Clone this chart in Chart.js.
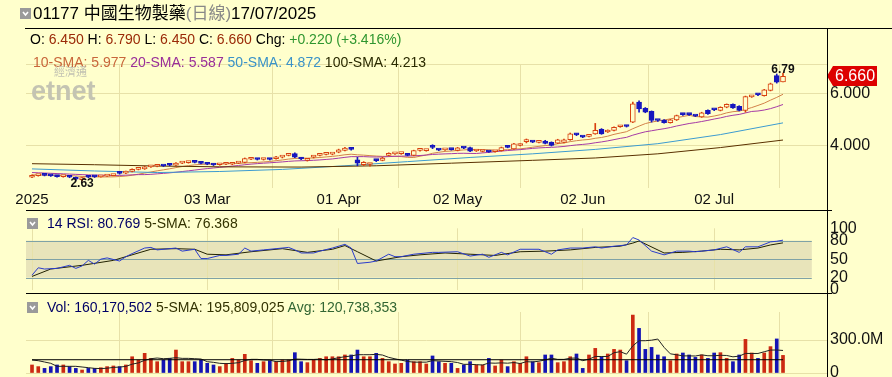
<!DOCTYPE html>
<html>
<head>
<meta charset="utf-8">
<script src="https://cdn.jsdelivr.net/npm/chart.js@4.4.0/dist/chart.umd.min.js"></script>
<style>
html, body { margin: 0; padding: 0; background: #FFFFCC; overflow: hidden; width: 892px; height: 377px; }
body { position: relative; font-family: "Liberation Sans", Arial, "Noto Sans CJK TC", sans-serif; }
canvas { position: absolute; left: 0; }
.txt { position: absolute; white-space: nowrap; line-height: 1; }
.hl { position: absolute; background: #000; height: 1px; }
.vl { position: absolute; background: #000; width: 1px; }
.ico { position: absolute; width: 11px; height: 11px; }
</style>
</head>
<body>
<canvas id="price" width="892" height="215" style="top:0"></canvas>
<canvas id="rsi" width="892" height="100" style="top:200px"></canvas>
<canvas id="vol" width="892" height="100" style="top:290px"></canvas>

<!-- headers -->
<svg class="ico" style="left:20px;top:8px" viewBox="0 0 11 11"><rect width="11" height="11" fill="#9a9a9a"/><polyline points="3,4 5.5,7 8,4" fill="none" stroke="#fff" stroke-width="1.6"/></svg>
<div class="txt" style="left:33px;top:5px;font-size:17px;color:#000">01177 中國生物製藥<span style="color:#888">(日線)</span>17/07/2025</div>
<div class="txt" style="left:30px;top:32px;font-size:14px;color:#000">O: <span style="color:#9a2a08">6.450</span> H: <span style="color:#9a2a08">6.790</span> L: <span style="color:#9a2a08">6.450</span> C: <span style="color:#9a2a08">6.660</span> Chg: <span style="color:#2f962f">+0.220 (+3.416%)</span></div>
<div class="txt" style="left:33px;top:55px;font-size:14px"><span style="color:#c8663a">10-SMA: 5.977</span> <span style="color:#992e99">20-SMA: 5.587</span> <span style="color:#3a92c8">50-SMA: 4.872</span> <span style="color:#2a2a00">100-SMA: 4.213</span></div>
<div class="txt" style="left:54px;top:67px;font-size:11px;color:#c2c2b2">經濟通</div>
<div class="txt" style="left:31px;top:78px;font-size:27px;font-weight:bold;color:#c4c4b2">etnet</div>

<svg class="ico" style="left:27px;top:218px" viewBox="0 0 11 11"><rect width="11" height="11" fill="#9a9a9a"/><polyline points="3,4 5.5,7 8,4" fill="none" stroke="#fff" stroke-width="1.6"/></svg>
<div class="txt" style="left:47px;top:216px;font-size:14px"><span style="color:#000066">14 RSI: 80.769</span> <span style="color:#333300">5-SMA: 76.368</span></div>
<svg class="ico" style="left:27px;top:302px" viewBox="0 0 11 11"><rect width="11" height="11" fill="#9a9a9a"/><polyline points="3,4 5.5,7 8,4" fill="none" stroke="#fff" stroke-width="1.6"/></svg>
<div class="txt" style="left:47px;top:300px;font-size:14px"><span style="color:#000066">Vol: 160,170,502</span> <span style="color:#333300">5-SMA: 195,809,025</span> <span style="color:#336633">Avg: 120,738,353</span></div>

<!-- panel frame -->
<div class="hl" style="left:25px;top:28px;width:867px"></div>
<div class="hl" style="left:26px;top:210px;width:806px"></div>
<div class="hl" style="left:26px;top:293px;width:806px"></div>
<div class="vl" style="left:827px;top:28px;height:349px"></div>

<script>
// x positions are trading-day indices, 0 = first day shown, 120 = 17/07/2025
const tickIdx = [0, 28, 49, 68, 88, 109];
const tickText = ['2025', '03 Mar', '01 Apr', '02 May', '02 Jun', '02 Jul'];

const opens = [2.78,2.84,2.86,2.85,2.84,2.80,2.82,2.78,2.69,2.80, 2.81,2.79,2.82,2.84,2.97,2.94,3.00,3.08,3.10,3.18,
  3.20,3.22,3.26,3.24,3.32,3.34,3.36,3.36,3.30,3.28, 3.26,3.28,3.28,3.32,3.35,3.47,3.48,3.46,3.48,3.49,
  3.55,3.62,3.69,3.52,3.43,3.55,3.62,3.66,3.67,3.74, 3.81,3.86,3.45,3.26,3.27,3.43,3.43,3.62,3.68,3.69,
  3.66,3.62,3.81,3.80,3.95,3.83,3.83,3.85,3.81,3.91, 3.92,3.79,3.77,3.77,3.76,3.80,3.94,3.87,4.00,4.15,
  4.14,4.12,4.17,4.12,4.09,4.12,4.22,4.42,4.33,4.35, 4.45,4.62,4.52,4.58,4.72,4.74,4.90,5.67,5.43,5.31,
  4.97,4.98,4.88,4.98,5.20,5.20,5.14,5.10,5.35,5.38, 5.35,5.47,5.58,5.51,5.35,5.87,5.96,5.92,6.12,6.69,
  6.45];
const highs = [2.87,2.87,2.88,2.87,2.85,2.84,2.83,2.79,2.77,2.81, 2.83,2.84,2.86,2.88,2.99,3.02,3.10,3.14,3.20,3.22,
  3.24,3.24,3.28,3.34,3.36,3.38,3.38,3.38,3.32,3.30, 3.29,3.32,3.35,3.35,3.52,3.52,3.50,3.49,3.50,3.58,
  3.58,3.68,3.72,3.54,3.49,3.60,3.66,3.70,3.70,3.86, 3.93,3.89,3.55,3.38,3.31,3.46,3.55,3.72,3.71,3.72,
  3.68,3.82,3.84,3.84,4.03,3.86,3.87,3.87,3.93,3.94, 3.94,3.82,3.80,3.79,3.79,3.94,3.97,4.08,4.06,4.25,
  4.17,4.16,4.20,4.14,4.24,4.25,4.48,4.46,4.36,4.38, 4.85,4.65,4.60,4.72,4.76,4.77,5.67,5.72,5.46,5.33,
  4.99,5.00,5.01,5.17,5.23,5.22,5.16,5.28,5.37,5.40, 5.49,5.60,5.60,5.53,5.90,5.92,5.99,6.16,6.40,6.75,
  6.79];
const lows = [2.76,2.82,2.83,2.81,2.78,2.78,2.76,2.66,2.63,2.76, 2.77,2.78,2.81,2.83,2.90,2.92,2.98,3.06,3.08,3.16,
  3.18,3.19,3.22,3.22,3.30,3.32,3.33,3.29,3.26,3.23, 3.24,3.26,3.26,3.30,3.33,3.45,3.44,3.44,3.44,3.47,
  3.52,3.60,3.53,3.45,3.40,3.52,3.60,3.64,3.64,3.72, 3.79,3.82,3.22,3.23,3.20,3.38,3.41,3.60,3.66,3.66,
  3.60,3.60,3.78,3.78,3.88,3.80,3.81,3.82,3.79,3.88, 3.76,3.77,3.75,3.73,3.74,3.78,3.91,3.85,3.98,4.10,
  4.11,4.10,4.06,3.98,4.07,4.10,4.20,4.38,4.30,4.33, 4.43,4.43,4.50,4.56,4.70,4.71,4.88,5.28,5.26,4.90,
  4.93,4.86,4.86,4.96,5.16,5.16,5.11,5.08,5.20,5.34, 5.33,5.45,5.43,5.33,5.28,5.85,5.92,5.90,6.10,6.40,
  6.45];
const closes = [2.84,2.85,2.85,2.83,2.80,2.82,2.78,2.70,2.75,2.78, 2.79,2.82,2.84,2.86,2.93,3.00,3.08,3.12,3.18,3.20,
  3.22,3.21,3.24,3.32,3.34,3.36,3.35,3.31,3.28,3.25, 3.27,3.30,3.33,3.33,3.50,3.48,3.46,3.47,3.46,3.56,
  3.55,3.64,3.55,3.48,3.47,3.58,3.64,3.68,3.67,3.83, 3.90,3.85,3.32,3.35,3.28,3.42,3.52,3.70,3.69,3.69,
  3.62,3.80,3.81,3.82,3.93,3.82,3.85,3.84,3.91,3.90, 3.78,3.80,3.78,3.75,3.77,3.92,3.93,4.06,4.03,4.17,
  4.13,4.13,4.08,4.00,4.22,4.22,4.45,4.41,4.32,4.36, 4.58,4.45,4.58,4.70,4.73,4.73,5.60,5.41,5.28,4.96,
  4.96,4.88,4.99,5.15,5.19,5.19,5.13,5.26,5.22,5.37, 5.47,5.58,5.45,5.35,5.88,5.88,5.95,6.14,6.37,6.44,
  6.66];

// moving-average values before enough days are on screen
const sma10Head = [2.87,2.87,2.86,2.86,2.85,2.85,2.84,2.83,2.81];
const sma20Head = [2.96,2.95,2.94,2.93,2.92,2.91,2.90,2.89,2.88,2.87,2.86,2.86,2.85,2.85,2.85,2.86,2.87,2.88,2.88];
// 50 / 100 day averages: [day index, value]
const sma50Pts = [[0,3.10],[10,3.02],[20,2.96],[30,3.00],[40,3.08],[50,3.22],[60,3.38],[70,3.54],[80,3.68],[90,3.85],[100,4.07],[110,4.42],[120,4.87]];
const sma100Pts = [[0,3.30],[10,3.26],[20,3.21],[30,3.18],[43,3.17],[55,3.22],[67,3.32],[80,3.43],[90,3.52],[100,3.68],[110,3.92],[120,4.21]];

// RSI(14) and its 5-day average: [day index, value]
const rsiPts = [[0,24],[1,36],[2,34],[4,35],[6,40],[7,35],[8,39],[9,48],[10,42],[11,50],[12,52],[14,47],[15,54],[16,59],[18,68],[19,69],
  [20,65],[23,68],[24,63],[26,66],[27,51],[28,51],[30,56],[31,56],[33,58],[34,68],[35,63],[37,65],[39,67],[41,69],[42,65],[43,60],
  [45,60],[46,63],[48,68],[50,74],[51,68],[52,43],[54,45],[55,47],[57,58],[58,54],[59,54],[61,58],[62,59],[64,61],[65,61],[68,62],
  [70,55],[72,58],[73,53],[75,61],[76,57],[78,66],[81,66],[83,58],[84,65],[86,68],[88,68],[90,70],[91,68],[93,71],[95,73],[96,85],
  [97,81],[99,63],[101,57],[103,63],[105,63],[106,62],[108,64],[109,65],[111,70],[113,61],[114,70],[116,70],[118,78],[119,79],[120,80.8]];
const rsiSmaPts = [[0,22],[3,34],[8,40],[13,48],[19,66],[23,67],[26,66],[28,58],[31,57],[35,62],[40,67],[44,61],[48,66],[50,72],
  [52,62],[55,47],[59,54],[62,57],[66,60],[70,58],[74,56],[78,62],[82,63],[86,65],[90,69],[94,71],[96,76],[97,79.5],[101,60],
  [104,61],[107,63],[110,66],[113,65],[116,68],[118,73],[120,76.4]];

// daily volume, millions of shares
const volumes = [73,58,42,58,73,73,58,42,27,42, 42,48,58,64,58,73,148,118,179,133,
  103,118,133,209,103,103,103,118,88,73, 58,88,133,118,170,112,88,103,112,103,
  118,118,185,103,94,118,133,148,148,148, 164,164,209,148,148,179,133,103,82,88,
  118,103,103,82,155,103,88,88,42,73, 103,73,73,133,64,118,58,103,88,148,
  103,94,164,164,94,103,148,173,42,164, 224,148,173,215,209,112,527,406,215,233,
  164,148,112,173,182,164,142,164,133,182, 185,133,103,164,306,182,133,182,240,310,
  160.17];
const volSmaHead = [118,112,100,88];
const avgVolume = 120.738;

const FONT = '"Liberation Sans", Arial, sans-serif';
const BG = '#FFFFCC';
const GRID = '#E7E1A8';
const UP = '#D8400F';
const DOWN = '#1616BE';
const XMIN = -0.96, XMAX = 127.03;
const P_MIN = 2.365, P_MAX = 7.135;
const RSI_BAND_END = 124.6;

Chart.defaults.font.family = FONT;
Chart.defaults.animation = false;
Chart.defaults.responsive = false;
Chart.defaults.plugins.legend.display = false;
Chart.defaults.plugins.tooltip.enabled = false;

const days = closes.map((c, i) => i);
const isUp = days.map(i => closes[i] >= opens[i]);

function movingAvg(values, n, head) {
  return values.map((v, i) => {
    if (i < n - 1) return head[i];
    let s = 0;
    for (let k = i - n + 1; k <= i; k++) s += values[k];
    return s / n;
  });
}
const sma10 = movingAvg(closes, 10, sma10Head);
const sma20 = movingAvg(closes, 20, sma20Head);
const volSma = movingAvg(volumes, 5, volSmaHead);

const toXY = pts => pts.map(p => ({ x: p[0], y: p[1] }));

function xAxis(showLabels) {
  return {
    type: 'linear', min: XMIN, max: XMAX, bounds: 'data', offset: false,
    afterBuildTicks: s => { s.ticks = tickIdx.map(v => ({ value: v })); },
    afterFit: s => { s.height = showLabels ? 22 : 0; s.paddingLeft = 0; s.paddingRight = 0; },
    grid: { color: GRID, drawTicks: false },
    border: { display: false },
    ticks: {
      display: showLabels, autoSkip: false, maxRotation: 0, padding: 3,
      color: '#111', font: { size: 15 },
      callback: v => tickText[tickIdx.indexOf(v)]
    }
  };
}

function yAxis(min, max, ticks, fmt, showGrid) {
  return {
    position: 'right', min, max, bounds: 'data',
    afterBuildTicks: s => { s.ticks = ticks.map(v => ({ value: v })); },
    afterFit: s => { s.width = 65; s.paddingTop = 0; s.paddingBottom = 0; },
    grid: { display: showGrid, color: GRID, drawTicks: false },
    border: { display: false },
    ticks: { autoSkip: false, padding: 3, color: '#111', font: { size: 16 }, callback: fmt }
  };
}

function line(data, color, order) {
  return { type: 'line', data, borderColor: color, borderWidth: 1, pointRadius: 0, tension: 0, order };
}

// price tag, high and low labels
const priceMarks = {
  id: 'priceMarks',
  afterDraw(chart) {
    const { ctx, scales: { x, y } } = chart;
    const last = closes.length - 1;
    const yy = Math.round(y.getPixelForValue(closes[last]));
    ctx.save();
    ctx.fillStyle = '#DD0000';
    ctx.beginPath();
    ctx.moveTo(827, yy);
    ctx.lineTo(833, yy - 10);
    ctx.lineTo(877, yy - 10);
    ctx.lineTo(877, yy + 10);
    ctx.lineTo(833, yy + 10);
    ctx.closePath();
    ctx.fill();
    ctx.fillStyle = '#fff';
    ctx.font = '16px ' + FONT;
    ctx.textBaseline = 'middle';
    ctx.textAlign = 'left';
    ctx.fillText(closes[last].toFixed(3), 835, yy + 1);

    const hi = highs.indexOf(Math.max(...highs));
    const lo = lows.indexOf(Math.min(...lows));
    ctx.fillStyle = '#111';
    ctx.font = 'bold 12px ' + FONT;
    ctx.textAlign = 'center';
    ctx.textBaseline = 'bottom';
    ctx.fillText(highs[hi].toFixed(2), x.getPixelForValue(hi), y.getPixelForValue(highs[hi]) + 3);
    ctx.textBaseline = 'top';
    ctx.fillText(lows[lo].toFixed(2), x.getPixelForValue(lo), y.getPixelForValue(lows[lo]) - 3);
    ctx.restore();
  }
};

new Chart(document.getElementById('price'), {
  type: 'bar',
  data: {
    datasets: [
      line(toXY(sma100Pts), '#5a3000', 5),
      line(toXY(sma50Pts), '#3c9bd0', 5),
      line(days.map(i => ({ x: i, y: sma20[i] })), '#a53aa5', 5),
      line(days.map(i => ({ x: i, y: sma10[i] })), '#d2824a', 5),
      {
        type: 'bar', order: 3, grouped: false, barThickness: 1,
        data: days.map(i => ({ x: i, y: [lows[i], highs[i]] })),
        backgroundColor: days.map(i => isUp[i] ? UP : DOWN)
      },
      {
        type: 'bar', order: 2, grouped: false, barThickness: 5, minBarLength: 2,
        data: days.map(i => ({ x: i, y: [opens[i], closes[i]] })),
        backgroundColor: days.map(i => isUp[i] ? BG : DOWN),
        borderColor: days.map(i => isUp[i] ? UP : DOWN),
        borderWidth: 1, borderSkipped: false
      }
    ]
  },
  options: {
    layout: { padding: { left: 26, right: 0, top: 64, bottom: 5 } },
    scales: {
      x: xAxis(true),
      // top tick only draws the plot's top grid line
      y: yAxis(P_MIN, P_MAX, [4, 6, P_MAX], v => v === P_MAX ? '' : v.toFixed(3), true)
    }
  },
  plugins: [priceMarks]
});

// RSI reference band (20-80) and guide lines
const rsiBand = {
  id: 'rsiBand',
  beforeDraw(chart) {
    const { ctx, chartArea, scales: { x, y } } = chart;
    const xr = x.getPixelForValue(RSI_BAND_END);
    ctx.save();
    ctx.fillStyle = '#E8E4BA';
    ctx.fillRect(chartArea.left, y.getPixelForValue(80), xr - chartArea.left, y.getPixelForValue(20) - y.getPixelForValue(80));
    ctx.restore();
  },
  beforeDatasetsDraw(chart) {
    const { ctx, chartArea, scales: { x, y } } = chart;
    const xr = x.getPixelForValue(RSI_BAND_END);
    ctx.save();
    ctx.strokeStyle = '#7fa2a6';
    ctx.lineWidth = 1;
    [80, 50, 20].forEach(v => {
      const yy = Math.round(y.getPixelForValue(v)) + 0.5;
      ctx.beginPath();
      ctx.moveTo(chartArea.left, yy);
      ctx.lineTo(xr, yy);
      ctx.stroke();
    });
    ctx.restore();
  }
};

new Chart(document.getElementById('rsi'), {
  type: 'line',
  data: {
    datasets: [
      line(toXY(rsiSmaPts), '#222200', 2),
      line(toXY(rsiPts), '#2a3ccc', 1)
    ]
  },
  options: {
    layout: { padding: { left: 26, right: 0, top: 28.3, bottom: 10 } },
    scales: {
      x: xAxis(false),
      y: yAxis(0, 100, [0, 20, 50, 80, 100], v => String(v), false)
    }
  },
  plugins: [rsiBand]
});

new Chart(document.getElementById('vol'), {
  type: 'bar',
  data: {
    datasets: [
      line([{ x: 0, y: avgVolume }, { x: closes.length - 1, y: avgVolume }], '#000', 1),
      line(days.map(i => ({ x: i, y: volSma[i] })), '#222', 1),
      {
        type: 'bar', order: 2, grouped: false, barThickness: 3,
        data: days.map(i => ({ x: i, y: volumes[i] })),
        backgroundColor: days.map(i => isUp[i] ? '#CC2A12' : '#1414B4')
      }
    ]
  },
  options: {
    layout: { padding: { left: 26, right: 0, top: 22, bottom: 17 } },
    scales: {
      x: xAxis(false),
      y: yAxis(0, 555, [0, 300], v => v === 0 ? '0' : v.toFixed(1) + 'M', true)
    }
  }
});
</script>
</body>
</html>
